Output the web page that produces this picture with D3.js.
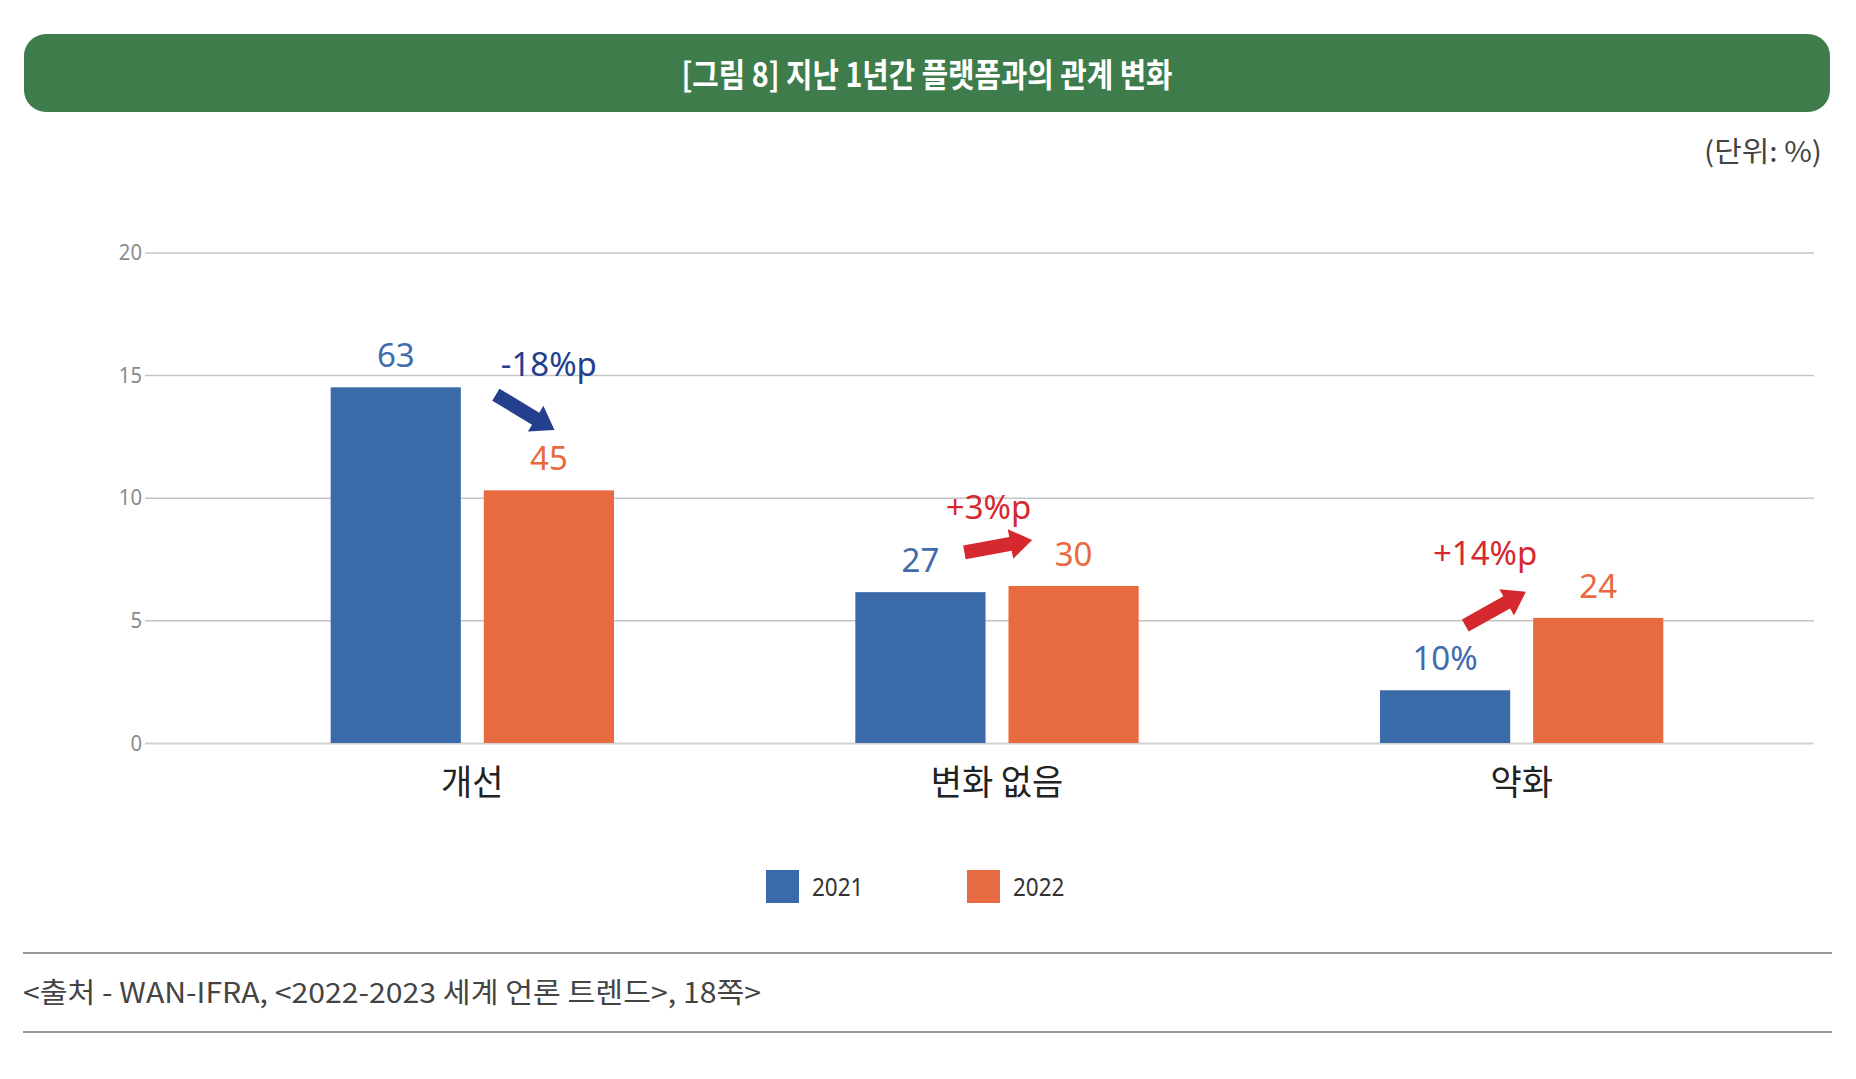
<!DOCTYPE html><meta charset="utf-8">
<style>*{margin:0}body{background:#fff}svg{display:block}</style>
<svg width="1856" height="1079"></svg>
<script src="https://d3js.org/d3.v7.min.js"></script>
<script>
// data
const categories = ["개선", "변화 없음", "약화"];
const years      = ["2021", "2022"];
const values2021 = [14.5, 6.15, 2.15];   // bar heights on the 0–20 axis
const values2022 = [10.3, 6.4, 5.1];
const labels2021 = ["63", "27", "10%"];
const labels2022 = ["45", "30", "24"];
const changes    = ["-18%p", "+3%p", "+14%p"];
const yTicks     = [0, 5, 10, 15, 20];
const title  = "[그림 8] 지난 1년간 플랫폼과의 관계 변화";
const unit   = "(단위: %)";
const source = "<출처 - WAN-IFRA, <2022-2023 세계 언론 트렌드>, 18쪽>";

const KR = "'Noto Sans CJK KR', 'Noto Sans', sans-serif",
      NUM = "'Noto Sans', 'Open Sans', sans-serif";
const colors = {"2021": "#3b6aa8", "2022": "#e76a41"},
      labelColors = {"2021": "#3f6cad", "2022": "#e8693e"},
      down = "#243f8e", up = "#d5292f";

const svg = d3.select("svg");

function condense(sel, k){
  sel.each(function(){
    const L = this.getComputedTextLength();
    d3.select(this).attr("textLength", L*k).attr("lengthAdjust", "spacingAndGlyphs");
  });
}

// header
svg.append("rect").attr("x",24).attr("y",34).attr("width",1806).attr("height",78)
   .attr("rx",22).attr("fill","#3e7d4b");
svg.append("text").attr("x",927).attr("y",87).attr("text-anchor","middle")
   .attr("font-family",KR).attr("font-weight",700).attr("font-size",33).attr("fill","#fff")
   .attr("textLength",491).attr("lengthAdjust","spacingAndGlyphs").text(title);
svg.append("text").attr("x",1822).attr("y",162).attr("text-anchor","end")
   .attr("font-family",KR).attr("font-size",28).attr("fill","#444")
   .attr("textLength",118).attr("lengthAdjust","spacingAndGlyphs").text(unit);

// scales
const y  = d3.scaleLinear().domain([0,20]).range([743,252.4]);
const x0 = d3.scaleBand().domain(categories).range([210,1784]).paddingInner(0.46).paddingOuter(0.23);
const x1 = d3.scaleBand().domain(years).range([0,x0.bandwidth()]).paddingInner(0.15);

// grid + ticks
const axis = svg.append("g").attr("transform","translate(145,0)")
   .call(d3.axisLeft(y).tickValues(yTicks).tickSize(-1669).tickPadding(3));
axis.select(".domain").remove();
axis.selectAll(".tick line").attr("stroke","#c4c4c4").attr("stroke-width",1.5);
axis.selectAll(".tick").filter(d=>d===0).select("line").attr("stroke","#d2d2d2").attr("stroke-width",2.2);
axis.selectAll(".tick text").attr("font-family",NUM).attr("font-size",22).attr("fill","#8a8a8a")
   .call(condense,0.92);

// bars
const rows = categories.map((c,i)=>({c, items:[
  {year:"2021", v:values2021[i], label:labels2021[i]},
  {year:"2022", v:values2022[i], label:labels2022[i]}]}));

const grp = svg.append("g").selectAll("g").data(rows).join("g")
   .attr("transform",d=>`translate(${x0(d.c)},0)`);
grp.selectAll("rect").data(d=>d.items).join("rect")
   .attr("x",d=>x1(d.year)).attr("width",x1.bandwidth())
   .attr("y",d=>y(d.v)).attr("height",d=>y(0)-y(d.v))
   .attr("fill",d=>colors[d.year]);
grp.selectAll("text.val").data(d=>d.items).join("text").attr("class","val")
   .attr("x",d=>x1(d.year)+x1.bandwidth()/2).attr("y",d=>y(d.v)-20)
   .attr("text-anchor","middle").attr("font-family",NUM).attr("font-size",33)
   .attr("fill",d=>labelColors[d.year]).text(d=>d.label);

// category labels
svg.append("g").selectAll("text").data(categories).join("text")
   .attr("x",d=>x0(d)+x0.bandwidth()/2).attr("y",795).attr("text-anchor","middle")
   .attr("font-family",KR).attr("font-size",35).attr("fill","#222").text(d=>d)
   .call(condense,0.97);

// change arrows & labels (placed in band fraction / axis units)
const bw = x0.bandwidth();
const arrowPlace = [
  {tail:[0.583,14.2], tip:[0.79,12.76], text:[0.77,14.96]},
  {tail:[0.385,7.77], tip:[0.624,8.28], text:[0.47,9.12]},
  {tail:[0.301,4.79], tip:[0.515,6.17], text:[0.371,7.26]}
];
function arrowPath(ax,ay,bx,by,sw,hw,hl){
  const dx=bx-ax, dy=by-ay, L=Math.hypot(dx,dy), ux=dx/L, uy=dy/L, nx=-uy, ny=ux;
  const hx=bx-ux*hl, hy=by-uy*hl;
  const p=[[ax+nx*sw/2,ay+ny*sw/2],[hx+nx*sw/2,hy+ny*sw/2],[hx+nx*hw/2,hy+ny*hw/2],[bx,by],
           [hx-nx*hw/2,hy-ny*hw/2],[hx-nx*sw/2,hy-ny*sw/2],[ax-nx*sw/2,ay-ny*sw/2]];
  return "M"+p.map(q=>q.join(",")).join("L")+"Z";
}
const ann = svg.append("g").selectAll("g").data(categories).join("g");
ann.append("path")
   .attr("d",(c,i)=>{const a=arrowPlace[i], gx=x0(c);
     return arrowPath(gx+a.tail[0]*bw,y(a.tail[1]),gx+a.tip[0]*bw,y(a.tip[1]),14,30,22);})
   .attr("fill",(c,i)=>changes[i].startsWith("-")?down:up);
ann.append("text")
   .attr("x",(c,i)=>x0(c)+arrowPlace[i].text[0]*bw).attr("y",(c,i)=>y(arrowPlace[i].text[1]))
   .attr("text-anchor","middle").attr("font-family",NUM).attr("font-size",33)
   .attr("fill",(c,i)=>changes[i].startsWith("-")?down:up).text((c,i)=>changes[i]);

// legend
const leg = svg.append("g").selectAll("g").data(years).join("g")
   .attr("transform",(d,i)=>`translate(${766+i*201},870)`);
leg.append("rect").attr("width",33).attr("height",33).attr("fill",d=>colors[d]);
leg.append("text").attr("x",46).attr("y",26).attr("font-family",NUM).attr("font-size",25)
   .attr("fill","#333").text(d=>d).call(condense,0.9);

// source
svg.append("line").attr("x1",23).attr("x2",1832).attr("y1",953).attr("y2",953).attr("stroke","#777").attr("stroke-width",1.5);
svg.append("line").attr("x1",23).attr("x2",1832).attr("y1",1032).attr("y2",1032).attr("stroke","#777").attr("stroke-width",1.5);
svg.append("text").attr("x",23).attr("y",1003).attr("font-family",KR).attr("font-size",28)
   .attr("fill","#444").attr("textLength",738).attr("lengthAdjust","spacingAndGlyphs").text(source);
</script>
